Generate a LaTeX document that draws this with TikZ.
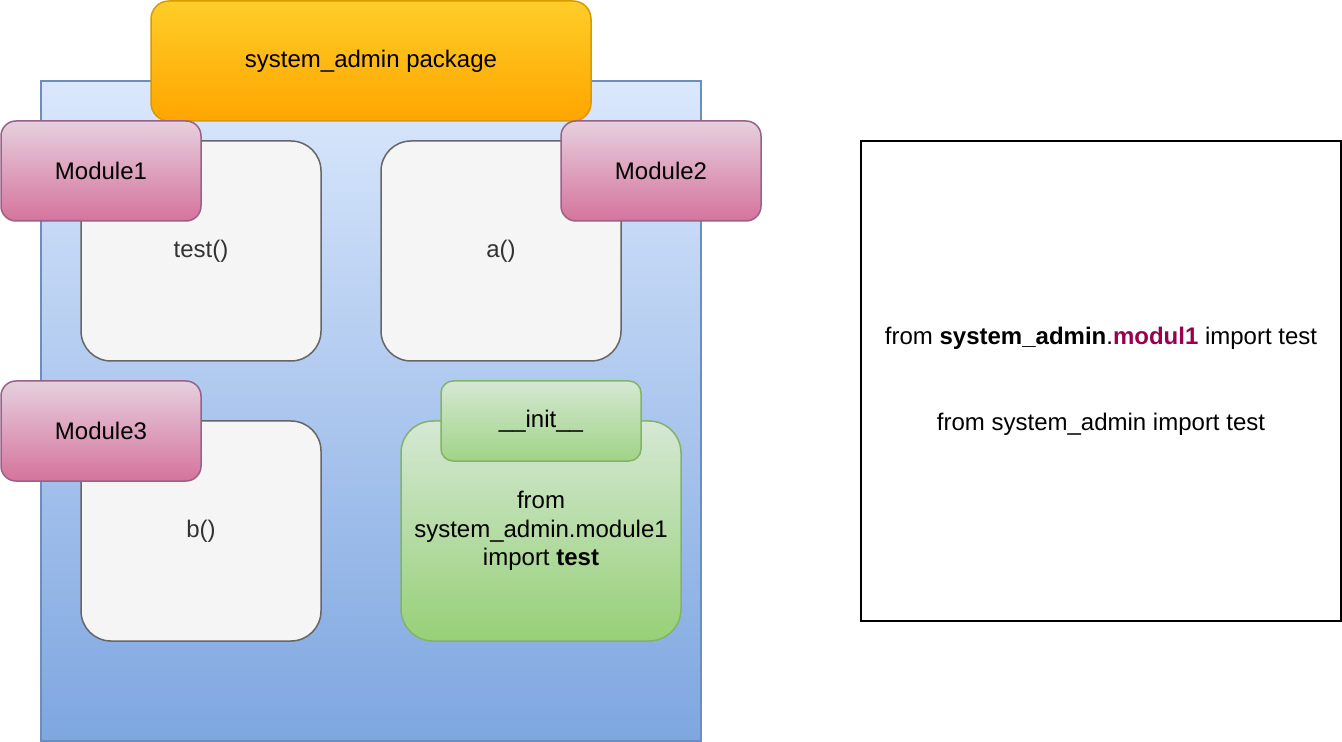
\documentclass[tikz,border=0pt]{standalone}
\usepackage{fontspec}
\setmainfont{Liberation Sans}
\usetikzlibrary{positioning}
\definecolor{pkgtop}{HTML}{DAE8FC}
\definecolor{pkgbot}{HTML}{7EA6E0}
\definecolor{pkgline}{HTML}{6C8EBF}
\definecolor{ttltop}{HTML}{FFCD28}
\definecolor{ttlbot}{HTML}{FFA500}
\definecolor{ttlline}{HTML}{D79B00}
\definecolor{fnfill}{HTML}{F5F5F5}
\definecolor{fnline}{HTML}{666666}
\definecolor{fntext}{HTML}{333333}
\definecolor{modtop}{HTML}{E6D0DE}
\definecolor{modbot}{HTML}{D5739D}
\definecolor{modline}{HTML}{996185}
\definecolor{inittop}{HTML}{D5E8D4}
\definecolor{initbot}{HTML}{97D077}
\definecolor{initline}{HTML}{82B366}
\definecolor{modname}{HTML}{99004D}
\tikzset{pkg/.style={draw=pkgline, line width=0.75pt, top color=pkgtop, bottom color=pkgbot, minimum width=330pt, minimum height=330pt},
title/.style={draw=ttlline, line width=0.75pt, top color=ttltop, bottom color=ttlbot, rounded corners=9pt, minimum width=220pt, minimum height=60pt},
func/.style={draw=fnline, line width=0.75pt, fill=fnfill, text=fntext, rounded corners=15pt, minimum width=120pt, minimum height=110pt},
module/.style={draw=modline, line width=0.75pt, top color=modtop, bottom color=modbot, rounded corners=7.5pt, minimum width=100pt, minimum height=50pt},
initbody/.style={draw=initline, line width=0.75pt, top color=inittop, bottom color=initbot, rounded corners=16pt, minimum width=140pt, minimum height=110pt},
inithead/.style={draw=initline, line width=0.75pt, top color=inittop, bottom color=initbot!85!inittop, rounded corners=6pt, minimum width=100pt, minimum height=40pt},
note/.style={draw=black, line width=1pt, minimum width=240pt, minimum height=240pt}
}

\begin{document}
\begin{tikzpicture}[x=0.5pt, y=-0.5pt, every node/.style={align=center, inner sep=0pt, font=\fontsize{12pt}{14.4pt}\selectfont}]
    \useasboundingbox (0,0) rectangle (1342,742);
    % Package
    \node [pkg] (package) at (371,411) {};
    \node [title] (pkgtitle) at (371,61) {system\_admin package};
    % Functions
    \node [func] (test) at (201,251) {test()};
    \node [func] (fa) at (501,251) {a()};
    \node [func] (fb) at (201,531) {b()};
    \node [initbody] (initcode) at (541,531) {from\\system\_admin.module1\\import \textbf{test}};
    \node [inithead] (init) at (541,421) {\_\_init\_\_};
    % Modules
    \node [module] (mod1) at (101,171) {Module1};
    \node [module] (mod2) at (661,171) {Module2};
    \node [module] (mod3) at (101,431) {Module3};
    % Import note
    \node [note] (imports) at (1101,381) {from \textbf{system\_admin}.\textcolor{modname}{\textbf{modul1}} import test\\[28.8pt]from system\_admin import test};
\end{tikzpicture}
\end{document}
